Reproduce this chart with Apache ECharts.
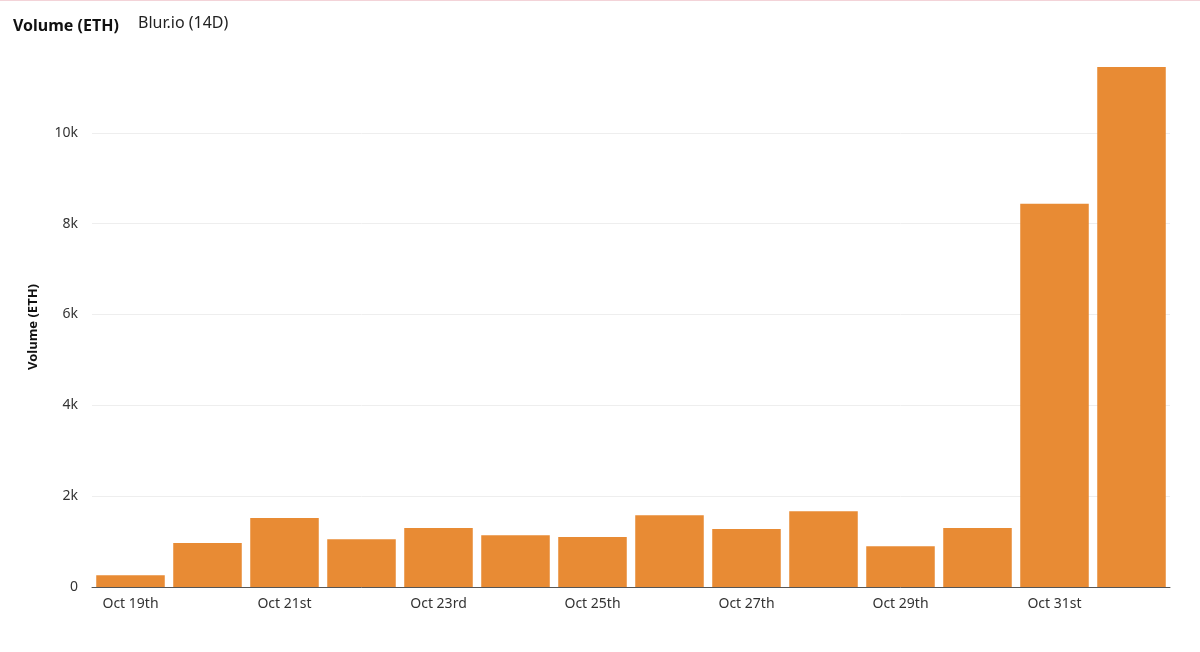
<!DOCTYPE html>
<html><head><meta charset="utf-8">
<script src="https://cdn.jsdelivr.net/npm/echarts@6/dist/echarts.min.js"></script>
<style>html,body{margin:0;padding:0;background:#fff}#c{width:1200px;height:652px;border-top:1px solid #f3d3d8;box-sizing:border-box}</style>
</head><body><div id="c"></div>
<script>
const categories = ["Oct 19th","Oct 20th","Oct 21st","Oct 22nd","Oct 23rd","Oct 24th","Oct 25th","Oct 26th","Oct 27th","Oct 28th","Oct 29th","Oct 30th","Oct 31st","Nov 1st"];
const volume = [260,970,1520,1050,1300,1140,1100,1580,1275,1670,900,1300,8440,11450];
const chart = echarts.init(document.getElementById('c'));
const F = 'Noto Sans';
chart.setOption({
  animation:false,
  title:{text:'Volume (ETH)',subtext:'',left:8,top:12,textStyle:{fontFamily:F,fontSize:16,fontWeight:'bold',color:'#111'}},
  graphic:[{type:'text',left:138,top:14,style:{text:'Blur.io (14D)',font:'16px "Noto Sans"',fill:'#222'}}],
  grid:{left:92,right:30,top:66,bottom:65},
  xAxis:{type:'category',data:categories,axisTick:{show:false},
    axisLine:{lineStyle:{color:'#555'}},
    axisLabel:{fontFamily:F,fontSize:14,color:'#333',margin:10}},
  yAxis:{type:'value',min:0,max:11450,interval:2000,
    name:'Volume (ETH)',nameLocation:'middle',nameGap:52,nameTextStyle:{fontFamily:F,fontSize:13,fontWeight:'bold',color:'#111'},
    axisLabel:{fontFamily:F,fontSize:14,color:'#333',showMaxLabel:false,margin:14,
      formatter:v=>v===0?'0':(v/1000)+'k'},
    splitLine:{showMaxLine:false,lineStyle:{color:'#eee'}}},
  series:[{type:'bar',data:volume,barCategoryGap:'11%',itemStyle:{color:'#E88B34'}}]
});
</script></body></html>
